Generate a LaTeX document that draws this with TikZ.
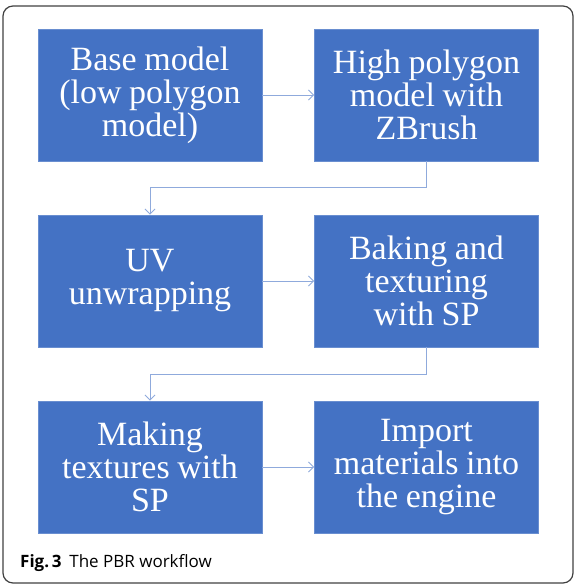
\documentclass[tikz,border=0pt]{standalone}
\usepackage{fontspec}
\setmainfont[WordSpace=0.9]{Liberation Serif}
\newfontfamily\capfont{Open Sans}
\usetikzlibrary{arrows.meta}
\definecolor{boxblue}{RGB}{68,114,196}
\definecolor{arrowc}{RGB}{143,170,220}
\tikzset{
  x=1pt,y=1pt,
  stepbox/.style={fill=boxblue,draw=boxblue!80!white,line width=0.8pt,text=white,minimum width=224pt,minimum height=132pt,
    align=center,inner sep=0pt,font=\fontsize{34}{33}\selectfont},
  conn/.style={draw=arrowc,line width=0.9pt,-{Straight Barb[length=5pt,width=10pt]}}
}
\begin{document}
\begin{tikzpicture}
\useasboundingbox (0,0) rectangle (578,-588);
\draw[line width=1.2pt,draw=black!75,rounded corners=10pt] (3,-6) rectangle (573,-583);
\node[stepbox] (a) at (150,-95) {Base model\\(low polygon\\model)};
\node[stepbox] (b) at (426.5,-95) {High polygon\\model with\\ZBrush};
\node[stepbox] (c) at (150,-281) {UV\\unwrapping};
\node[stepbox] (d) at (426.5,-281) {Baking and\\texturing\\with SP};
\node[stepbox] (e) at (150,-467) {Making\\textures with\\SP};
\node[stepbox] (f) at (426.5,-467) {Import\\materials into\\the engine};
\coordinate (k1) at (426.5,-187);
\coordinate (k2) at (150,-187);
\coordinate (k3) at (426.5,-374);
\coordinate (k4) at (150,-374);
\draw[conn] (a) -- (b);
\draw[conn] (c) -- (d);
\draw[conn] (e) -- (f);
\draw[conn] (b.south) -- (k1) -- (k2) -- (c.north);
\draw[conn] (d.south) -- (k3) -- (k4) -- (e.north);
\node[anchor=base west,inner sep=0pt,font=\capfont\fontsize{17}{19}\selectfont] (cap) at (20,-567) {\textbf{Fig.\,3}\hspace{0.45em}The PBR workflow};
\end{tikzpicture}
\end{document}
